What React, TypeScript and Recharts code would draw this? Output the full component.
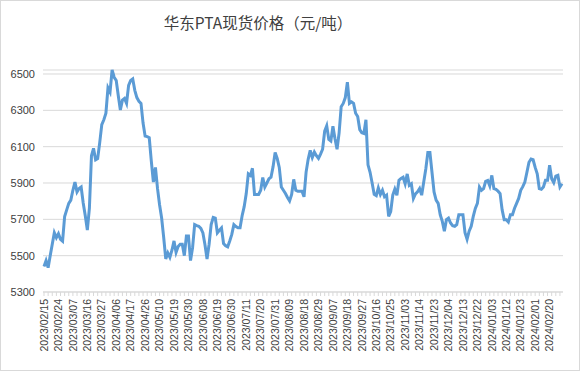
import React from 'react';
import { LineChart, Line, XAxis, YAxis, CartesianGrid } from 'recharts';

// trading days, Feb 2023 - Feb 2024
const dates = [
  '2023/02/15', '2023/02/16', '2023/02/17', '2023/02/20', '2023/02/21', '2023/02/22', '2023/02/23', '2023/02/24', '2023/02/27', '2023/02/28',
  '2023/03/01', '2023/03/02', '2023/03/03', '2023/03/06', '2023/03/07', '2023/03/08', '2023/03/09', '2023/03/10', '2023/03/13', '2023/03/14',
  '2023/03/15', '2023/03/16', '2023/03/17', '2023/03/20', '2023/03/21', '2023/03/22', '2023/03/23', '2023/03/24', '2023/03/27', '2023/03/28',
  '2023/03/29', '2023/03/30', '2023/03/31', '2023/04/03', '2023/04/04', '2023/04/06', '2023/04/07', '2023/04/10', '2023/04/11', '2023/04/12',
  '2023/04/13', '2023/04/14', '2023/04/17', '2023/04/18', '2023/04/19', '2023/04/20', '2023/04/21', '2023/04/24', '2023/04/25', '2023/04/26',
  '2023/04/27', '2023/04/28', '2023/05/04', '2023/05/05', '2023/05/08', '2023/05/09', '2023/05/10', '2023/05/11', '2023/05/12', '2023/05/15',
  '2023/05/16', '2023/05/17', '2023/05/18', '2023/05/19', '2023/05/22', '2023/05/23', '2023/05/24', '2023/05/25', '2023/05/26', '2023/05/29',
  '2023/05/30', '2023/05/31', '2023/06/01', '2023/06/02', '2023/06/05', '2023/06/06', '2023/06/07', '2023/06/08', '2023/06/09', '2023/06/12',
  '2023/06/13', '2023/06/14', '2023/06/15', '2023/06/16', '2023/06/19', '2023/06/20', '2023/06/21', '2023/06/26', '2023/06/27', '2023/06/28',
  '2023/06/29', '2023/06/30', '2023/07/03', '2023/07/04', '2023/07/05', '2023/07/06', '2023/07/07', '2023/07/10', '2023/07/11', '2023/07/12',
  '2023/07/13', '2023/07/14', '2023/07/17', '2023/07/18', '2023/07/19', '2023/07/20', '2023/07/21', '2023/07/24', '2023/07/25', '2023/07/26',
  '2023/07/27', '2023/07/28', '2023/07/31', '2023/08/01', '2023/08/02', '2023/08/03', '2023/08/04', '2023/08/07', '2023/08/08', '2023/08/09',
  '2023/08/10', '2023/08/11', '2023/08/14', '2023/08/15', '2023/08/16', '2023/08/17', '2023/08/18', '2023/08/21', '2023/08/22', '2023/08/23',
  '2023/08/24', '2023/08/25', '2023/08/28', '2023/08/29', '2023/08/30', '2023/08/31', '2023/09/01', '2023/09/04', '2023/09/05', '2023/09/06',
  '2023/09/07', '2023/09/08', '2023/09/11', '2023/09/12', '2023/09/13', '2023/09/14', '2023/09/15', '2023/09/18', '2023/09/19', '2023/09/20',
  '2023/09/21', '2023/09/22', '2023/09/25', '2023/09/26', '2023/09/27', '2023/09/28', '2023/10/09', '2023/10/10', '2023/10/11', '2023/10/12',
  '2023/10/13', '2023/10/16', '2023/10/17', '2023/10/18', '2023/10/19', '2023/10/20', '2023/10/23', '2023/10/24', '2023/10/25', '2023/10/26',
  '2023/10/27', '2023/10/30', '2023/10/31', '2023/11/01', '2023/11/02', '2023/11/03', '2023/11/06', '2023/11/07', '2023/11/08', '2023/11/09',
  '2023/11/10', '2023/11/13', '2023/11/14', '2023/11/15', '2023/11/16', '2023/11/17', '2023/11/20', '2023/11/21', '2023/11/22', '2023/11/23',
  '2023/11/24', '2023/11/27', '2023/11/28', '2023/11/29', '2023/11/30', '2023/12/01', '2023/12/04', '2023/12/05', '2023/12/06', '2023/12/07',
  '2023/12/08', '2023/12/11', '2023/12/12', '2023/12/13', '2023/12/14', '2023/12/15', '2023/12/18', '2023/12/19', '2023/12/20', '2023/12/21',
  '2023/12/22', '2023/12/25', '2023/12/26', '2023/12/27', '2023/12/28', '2023/12/29', '2024/01/02', '2024/01/03', '2024/01/04', '2024/01/05',
  '2024/01/08', '2024/01/09', '2024/01/10', '2024/01/11', '2024/01/12', '2024/01/15', '2024/01/16', '2024/01/17', '2024/01/18', '2024/01/19',
  '2024/01/22', '2024/01/23', '2024/01/24', '2024/01/25', '2024/01/26', '2024/01/29', '2024/01/30', '2024/01/31', '2024/02/01', '2024/02/02',
  '2024/02/05', '2024/02/06', '2024/02/07', '2024/02/08', '2024/02/19', '2024/02/20', '2024/02/21', '2024/02/22', '2024/02/23', '2024/02/26',
  '2024/02/27', '2024/02/28',
];

// 元/吨
const prices = [
  5441, 5473, 5434, 5500, 5563, 5626, 5599, 5621, 5590, 5580,
  5716, 5752, 5788, 5806, 5860, 5905, 5851, 5870, 5878, 5790,
  5720, 5641, 5761, 6050, 6091, 6028, 6035, 6122, 6221, 6248,
  6284, 6424, 6401, 6522, 6482, 6464, 6380, 6302, 6356, 6365,
  6338, 6437, 6464, 6473, 6410, 6370, 6350, 6338, 6230, 6158,
  6155, 6149, 6020, 5905, 5986, 5870, 5780, 5707, 5600, 5482,
  5515, 5491, 5530, 5581, 5518, 5550, 5563, 5563, 5500, 5608,
  5608, 5473, 5545, 5671, 5665, 5662, 5650, 5625, 5560, 5482,
  5563, 5671, 5711, 5707, 5626, 5640, 5653, 5567, 5555, 5549,
  5581, 5617, 5671, 5660, 5653, 5653, 5720, 5770, 5842, 5950,
  5941, 5981, 5837, 5837, 5837, 5860, 5930, 5878, 5900, 5923,
  5932, 5990, 6068, 6035, 5986, 5878, 5860, 5842, 5820, 5801,
  5837, 5920, 5860, 5855, 5855, 5855, 5824, 5960, 6030, 6080,
  6040, 6070, 6050, 6035, 6059, 6086, 6185, 6215, 6140, 6131,
  6212, 6143, 6086, 6176, 6320, 6338, 6370, 6455, 6338, 6347,
  6338, 6284, 6266, 6194, 6176, 6172, 6248, 6000, 5959, 5900,
  5837, 5830, 5873, 5837, 5860, 5824, 5833, 5716, 5743, 5833,
  5866, 5833, 5915, 5925, 5932, 5896, 5950, 5887, 5896, 5815,
  5840, 5851, 5869, 5833, 5905, 5977, 6068, 6068, 5959, 5851,
  5806, 5788, 5725, 5689, 5635, 5698, 5707, 5680, 5665, 5662,
  5671, 5725, 5725, 5725, 5626, 5590, 5635, 5662, 5716, 5760,
  5788, 5878, 5860, 5869, 5909, 5914, 5884, 5942, 5869, 5865,
  5855, 5842, 5752, 5698, 5698, 5685, 5725, 5725, 5761, 5788,
  5815, 5860, 5880, 5905, 5959, 6014, 6032, 6028, 5986, 5950,
  5869, 5865, 5878, 5915, 5915, 5998, 5923, 5902, 5938, 5942,
  5878, 5896,
];

const yTicks = [5300, 5500, 5700, 5900, 6100, 6300, 6500];
const LABEL_EVERY = 7;

const LINE_COLOR = '#5B9BD5';
const GRID_COLOR = '#D9D9D9';
const TEXT_COLOR = '#404040';

const data = dates.map((d, i) => ({ date: d, price: prices[i] }));

// every category gets a tick mark, only every 7th a label
const DateTick = (props: any) => {
  const { x, y, payload, index } = props;
  const idx = index ?? payload?.index ?? 0;
  return (
    <g>
      {idx % 2 === 0 && (
        <line x1={x} y1={y - 7} x2={x} y2={y - 3} stroke={GRID_COLOR} strokeWidth={1} />
      )}
      {idx % LABEL_EVERY === 0 && (
        <text
          transform={`translate(${x},${y}) rotate(-90)`}
          textAnchor="end"
          dy="0.35em"
          fontSize={10.5}
          fontFamily="'Liberation Sans', Arial, sans-serif"
          fill={TEXT_COLOR}
        >
          {payload.value}
        </text>
      )}
    </g>
  );
};

export default function App() {
  return (
    <div style={{ position: 'absolute', left: 0, top: 0, width: 580, height: 371, background: '#fff' }}>
      <div
        style={{
          position: 'absolute',
          left: 0,
          top: 11,
          width: 516,
          textAlign: 'center',
          fontFamily: "'Noto Sans CJK SC', sans-serif",
          fontSize: 15.5,
          color: '#404040',
          lineHeight: '22px',
        }}
      >
        华东PTA现货价格（元/吨）
      </div>
      <LineChart width={580} height={371} data={data} margin={{ top: 70, right: 17, left: 0, bottom: 0 }}>
        <CartesianGrid vertical={false} stroke={GRID_COLOR} />
        <XAxis
          dataKey="date"
          interval={0}
          tickLine={false}
          tickSize={4}
          tickMargin={3}
          height={79}
          padding={{ left: 1, right: 1 }}
          stroke={GRID_COLOR}
          tick={<DateTick />}
        />
        <YAxis
          domain={[5300, 6500]}
          ticks={yTicks}
          width={43}
          axisLine={false}
          tickLine={false}
          tick={{ fill: TEXT_COLOR, fontSize: 11, fontFamily: "'Liberation Sans', Arial, sans-serif" }}
        />
        <Line
          type="linear"
          dataKey="price"
          stroke={LINE_COLOR}
          strokeWidth={3}
          dot={false}
          isAnimationActive={false}
        />
      </LineChart>
      <div
        style={{
          position: 'absolute',
          inset: 0,
          border: `1px solid ${GRID_COLOR}`,
          pointerEvents: 'none',
        }}
      />
    </div>
  );
}
